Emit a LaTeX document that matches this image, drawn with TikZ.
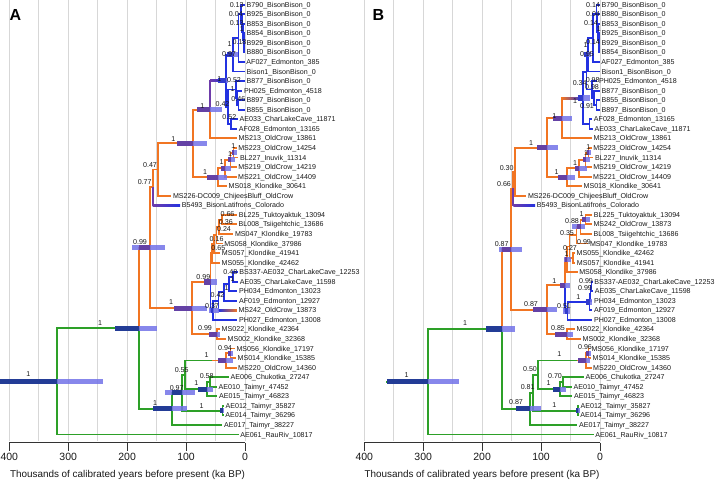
\documentclass[tikz,border=0pt]{standalone}
\usepackage{fontspec}
\setmainfont{Liberation Sans}
\usetikzlibrary{calc}
\definecolor{cor}{RGB}{241,117,35}
\definecolor{cbl}{RGB}{35,50,225}
\definecolor{cgr}{RGB}{45,160,40}
\definecolor{cpu}{RGB}{110,60,170}
\definecolor{cbar}{RGB}{115,115,232}
\definecolor{cnavy}{RGB}{35,60,150}
\definecolor{cpud}{RGB}{100,65,165}
\definecolor{cbld}{RGB}{50,60,205}
\definecolor{cgrid}{RGB}{215,215,215}
\newcommand{\hpd}[6]{%
  \fill[cbar,opacity=0.85] (#1,#3-2.6) rectangle (#2,#3+2.6);%
  \fill[#6] (#4,#3-2.6) rectangle (#5,#3+2.6);}
\newcommand{\gradbr}[4]{%
  \shade[left color=#3,right color=#4] ($(#1 |- #2)+(0,0.95)$) rectangle ($(#2)+(0,-0.95)$);}
\begin{document}
\begin{tikzpicture}[x=1pt,y=-1pt,
  br/.style={line width=1.9pt},
  ob/.style={br,draw=cor}, bb/.style={br,draw=cbl},
  gb/.style={br,draw=cgr}, pb/.style={br,draw=cpu},
  tip/.style={anchor=west,inner xsep=1.5pt,inner ysep=0pt,text height=5.1pt,text depth=0pt,font=\fontsize{7.1}{8}\selectfont,text=black!90},
  pp/.style={inner sep=0pt,font=\fontsize{7.1}{8}\selectfont,text=black!90},
  gridl/.style={draw=cgrid,line width=0.9pt},
  axl/.style={draw=black!80,line width=0.8pt},
  tickl/.style={font=\fontsize{10.5}{12}\selectfont,text=black!90,inner sep=0pt},
  titl/.style={font=\fontsize{9.9}{12}\selectfont,text=black!90,inner sep=0pt},
  panl/.style={font=\fontsize{16}{18}\selectfont\bfseries,inner sep=0pt}]
\fill[white] (0,0) rectangle (717,481);
\useasboundingbox (0,0) rectangle (717,481);
% grid
\foreach \k in {0,...,8} {
  \draw[gridl] ({245-29.465*\k},0) -- ({245-29.465*\k},441);
  \draw[gridl] ({600-29.465*\k},0) -- ({600-29.465*\k},441);
}
% ---------------- panel A tips
\foreach \rr/\ag/\lab in {
1/0/B790\_BisonBison\_0,
2/0/B925\_BisonBison\_0,
3/0/B853\_BisonBison\_0,
4/0/B854\_BisonBison\_0,
5/0/B929\_BisonBison\_0,
6/0/B880\_BisonBison\_0,
7/0.385/AF027\_Edmonton\_385,
8/0/Bison1\_BisonBison\_0,
9/0/B877\_BisonBison\_0,
10/4.518/PH025\_Edmonton\_4518,
11/0/B897\_BisonBison\_0,
12/0/B855\_BisonBison\_0,
13/11.871/AE033\_CharLakeCave\_11871,
14/13.165/AF028\_Edmonton\_13165,
15/13.861/MS213\_OldCrow\_13861,
16/14.254/MS223\_OldCrow\_14254,
17/11.314/BL227\_Inuvik\_11314,
18/14.219/MS219\_OldCrow\_14219,
19/14.409/MS221\_OldCrow\_14409,
20/30.641/MS018\_Klondike\_30641,
21/125/MS226-DC009\_ChijeesBluff\_OldCrow,
22/110/B5493\_BisonLatifrons\_Colorado,
23/13.094/BL225\_Tuktoyaktuk\_13094,
24/13.686/BL008\_Tsiigehtchic\_13686,
25/19.783/MS047\_Klondike\_19783,
26/37.986/MS058\_Klondike\_37986,
27/41.941/MS057\_Klondike\_41941,
28/42.462/MS055\_Klondike\_42462,
29/12.253/BS337-AE032\_CharLakeCave\_12253,
30/11.598/AE035\_CharLakeCave\_11598,
31/13.023/PH034\_Edmonton\_13023,
32/12.927/AF019\_Edmonton\_12927,
33/13.873/MS242\_OldCrow\_13873,
34/13.008/PH027\_Edmonton\_13008,
35/42.364/MS022\_Klondike\_42364,
36/32.368/MS002\_Klondike\_32368,
37/17.197/MS056\_Klondike\_17197,
38/15.385/MS014\_Klondike\_15385,
39/14.360/MS220\_OldCrow\_14360,
40/27.247/AE006\_Chukotka\_27247,
41/47.452/AE010\_Taimyr\_47452,
42/46.823/AE015\_Taimyr\_46823,
43/35.827/AE012\_Taimyr\_35827,
44/36.296/AE014\_Taimyr\_36296,
45/38.227/AE017\_Taimyr\_38227,
46/10.817/AE061\_RauRiv\_10817}
  \node[tip] (aT\rr) at ({245-0.5893*\ag},{4.7+(\rr-1)*9.55}) {\lab};
% ---------------- panel B tips
\foreach \rr/\ag/\lab in {
1/0/B790\_BisonBison\_0,
2/0/B880\_BisonBison\_0,
3/0/B853\_BisonBison\_0,
4/0/B925\_BisonBison\_0,
5/0/B929\_BisonBison\_0,
6/0/B854\_BisonBison\_0,
7/0.385/AF027\_Edmonton\_385,
8/0/Bison1\_BisonBison\_0,
9/4.518/PH025\_Edmonton\_4518,
10/0/B877\_BisonBison\_0,
11/0/B855\_BisonBison\_0,
12/0/B897\_BisonBison\_0,
13/13.165/AF028\_Edmonton\_13165,
14/11.871/AE033\_CharLakeCave\_11871,
15/13.861/MS213\_OldCrow\_13861,
16/14.254/MS223\_OldCrow\_14254,
17/11.314/BL227\_Inuvik\_11314,
18/14.219/MS219\_OldCrow\_14219,
19/14.409/MS221\_OldCrow\_14409,
20/30.641/MS018\_Klondike\_30641,
21/125/MS226-DC009\_ChijeesBluff\_OldCrow,
22/110/B5493\_BisonLatifrons\_Colorado,
23/13.094/BL225\_Tuktoyaktuk\_13094,
24/13.873/MS242\_OldCrow\_13873,
25/13.686/BL008\_Tsiigehtchic\_13686,
26/19.783/MS047\_Klondike\_19783,
27/42.462/MS055\_Klondike\_42462,
28/41.941/MS057\_Klondike\_41941,
29/37.986/MS058\_Klondike\_37986,
30/12.253/BS337-AE032\_CharLakeCave\_12253,
31/11.598/AE035\_CharLakeCave\_11598,
32/13.023/PH034\_Edmonton\_13023,
33/12.927/AF019\_Edmonton\_12927,
34/13.008/PH027\_Edmonton\_13008,
35/42.364/MS022\_Klondike\_42364,
36/32.368/MS002\_Klondike\_32368,
37/17.197/MS056\_Klondike\_17197,
38/15.385/MS014\_Klondike\_15385,
39/14.360/MS220\_OldCrow\_14360,
40/27.247/AE006\_Chukotka\_27247,
41/47.452/AE010\_Taimyr\_47452,
42/46.823/AE015\_Taimyr\_46823,
43/35.827/AE012\_Taimyr\_35827,
44/36.296/AE014\_Taimyr\_36296,
45/38.227/AE017\_Taimyr\_38227,
46/10.817/AE061\_RauRiv\_10817}
  \node[tip] (bT\rr) at ({600-0.5893*\ag},{4.7+(\rr-1)*9.55}) {\lab};
% ---------------- panel A internal nodes
\coordinate (aR0) at (0,381.4);
\coordinate (aR) at (57.3,381.4);
\coordinate (aN1) at (139.3,328.3);
\coordinate (aN2) at (150,247.75);
\coordinate (aN3) at (171.7,408.8);
\coordinate (aN4) at (181.7,392.7);
\coordinate (aN5) at (185,374.8);
\coordinate (aN6m) at (212,360.45);
\coordinate (aN6) at (226,360.45);
\coordinate (aN9) at (230.5,353.3);
\coordinate (aN7) at (206.7,389.1);
\coordinate (aN8) at (210,381.9);
\coordinate (aPA) at (222.5,410.6);
\coordinate (aN10) at (191.7,308.1);
\coordinate (aN30) at (210.5,281.95);
\coordinate (aK5) at (212,253.3);
\coordinate (aK4) at (214,244.05);
\coordinate (aK3) at (216.5,235.1);
\coordinate (aK2) at (219,226.75);
\coordinate (aK1) at (222,219.6);
\coordinate (aB5) at (213,310.6);
\coordinate (aB4) at (218.5,301.35);
\coordinate (aB3) at (224,292.4);
\coordinate (aB2) at (229,284.05);
\coordinate (aB1) at (233,276.9);
\coordinate (aN31) at (217,334.2);
\coordinate (aN11) at (152.7,187.4);
\coordinate (aN12) at (158.3,169.55);
\coordinate (aN13) at (193.3,143.4);
\coordinate (aN14) at (210,109.6);
\coordinate (aN15) at (218.3,177.2);
\coordinate (aN16) at (225,168.2);
\coordinate (aN17) at (230.5,159.9);
\coordinate (aN18) at (233.5,152.7);
\coordinate (aN19) at (226,80.8);
\coordinate (aN20) at (232.7,54.8);
\coordinate (aN26) at (238.5,38.0);
\coordinate (aL1) at (241,13.95);
\coordinate (aL2) at (242,23.2);
\coordinate (aL3) at (243,32.2);
\coordinate (aL4) at (243.8,40.5);
\coordinate (aL5) at (244.4,47.7);
\coordinate (aN22) at (228,106.8);
\coordinate (aN23) at (236,89.5);
\coordinate (aN24) at (237.3,97.8);
\coordinate (aN25) at (238.5,105.0);
\coordinate (aN21) at (231,124.1);
% ---------------- panel A branches
\draw[gb] (aR0) -- (aR);
\draw[gb] (aR) |- (aN1);
\draw[gb] (aR) |- (aT46.west);
\draw[ob] (aN1) |- (aN2);
\draw[gb] (aN1) |- (aN3);
\draw[ob] (aN2) |- (aN11);
\draw[ob] (aN2) |- (aN10);
\draw[ob] (aN11) |- (aN12);
\draw[pb] (aN11) |- (aT22.west); \gradbr{aN11}{aT22.west}{cpu}{cbl}
\draw[ob] (aN12) |- (aN13);
\draw[ob] (aN12) |- (aT21.west);
\draw[ob] (aN13) |- (aN14);
\draw[ob] (aN13) |- (aN15);
\draw[pb] (aN14) |- (aN19); \gradbr{aN14}{aN19}{cpu}{cbl}
\draw[ob] (aN14) |- (aT15.west);
\draw[bb] (aN19) |- (aN20);
\draw[bb] (aN19) |- (aN22);
\draw[bb] (aN20) |- (aN26);
\draw[bb] (aN20) |- (aT8.west);
\draw[bb] (aN26) |- (aL1);
\draw[bb] (aN26) |- (aT7.west);
\draw[bb] (aL1) |- (aT1.west);
\draw[bb] (aL1) |- (aL2);
\draw[bb] (aL2) |- (aT2.west);
\draw[bb] (aL2) |- (aL3);
\draw[bb] (aL3) |- (aT3.west);
\draw[bb] (aL3) |- (aL4);
\draw[bb] (aL4) |- (aT4.west);
\draw[bb] (aL4) |- (aL5);
\draw[bb] (aL5) |- (aT5.west);
\draw[bb] (aL5) |- (aT6.west);
\draw[bb] (aN22) |- (aN23);
\draw[bb] (aN22) |- (aN21);
\draw[bb] (aN23) |- (aT9.west);
\draw[bb] (aN23) |- (aN24);
\draw[bb] (aN24) |- (aT10.west);
\draw[bb] (aN24) |- (aN25);
\draw[bb] (aN25) |- (aT11.west);
\draw[bb] (aN25) |- (aT12.west);
\draw[bb] (aN21) |- (aT13.west);
\draw[bb] (aN21) |- (aT14.west);
\draw[ob] (aN15) |- (aN16);
\draw[ob] (aN15) |- (aT20.west);
\draw[ob] (aN16) |- (aN17);
\draw[ob] (aN16) |- (aT19.west);
\draw[ob] (aN17) |- (aN18);
\draw[ob] (aN17) |- (aT18.west);
\draw[ob] (aN18) |- (aT16.west);
\draw[ob] (aN18) |- (aT17.west);
\draw[ob] (aN10) |- (aN30);
\draw[ob] (aN10) |- (aN31);
\draw[ob] (aN30) |- (aK5);
\draw[bb] (aN30) |- (aB5);
\draw[ob] (aK5) |- (aK4);
\draw[ob] (aK5) |- (aT28.west);
\draw[ob] (aK4) |- (aK3);
\draw[ob] (aK4) |- (aT27.west);
\draw[ob] (aK3) |- (aK2);
\draw[ob] (aK3) |- (aT26.west);
\draw[ob] (aK2) |- (aK1);
\draw[ob] (aK2) |- (aT25.west);
\draw[ob] (aK1) |- (aT23.west);
\draw[ob] (aK1) |- (aT24.west);
\draw[bb] (aB5) |- (aB4);
\draw[bb] (aB5) |- (aT34.west);
\draw[bb] (aB4) |- (aB3);
\draw[bb] (aB4) |- (aT33.west); \gradbr{aB4}{aT33.west}{cbl}{cor}
\draw[bb] (aB3) |- (aB2);
\draw[bb] (aB3) |- (aT32.west);
\draw[bb] (aB2) |- (aB1);
\draw[bb] (aB2) |- (aT31.west);
\draw[bb] (aB1) |- (aT29.west);
\draw[bb] (aB1) |- (aT30.west);
\draw[ob] (aN31) |- (aT35.west);
\draw[ob] (aN31) |- (aT36.west);
\draw[gb] (aN3) |- (aN4);
\draw[gb] (aN3) |- (aT45.west);
\draw[gb] (aN4) |- (aN5);
\draw[gb] (aN4) |- (aPA);
\draw[gb] (aPA) |- (aT43.west);
\draw[gb] (aPA) |- (aT44.west);
\draw[gb] (aN5) |- (aN6);
\draw[ob] (aN6m) -- (aN6);
\draw[gb] (aN5) |- (aN7);
\draw[ob] (aN6) |- (aN9);
\draw[ob] (aN6) |- (aT39.west);
\draw[ob] (aN9) |- (aT37.west);
\draw[ob] (aN9) |- (aT38.west);
\draw[gb] (aN7) |- (aN8);
\draw[gb] (aN7) |- (aT42.west);
\draw[gb] (aN8) |- (aT40.west);
\draw[gb] (aN8) |- (aT41.west);
% ---------------- panel B internal nodes
\coordinate (bR0) at (386,381.7);
\coordinate (bR) at (428.3,381.7);
\coordinate (bN1) at (501.7,328.95);
\coordinate (bN2) at (510.7,249.1);
\coordinate (bN11) at (513.3,188.5);
\coordinate (bN12) at (515,171.7);
\coordinate (bN13) at (547.3,147.7);
\coordinate (bN14) at (561.7,118.25);
\coordinate (bN19) at (583,98.1);
\coordinate (bNX) at (586.5,72.15);
\coordinate (bN20) at (588,54.8);
\coordinate (bN26) at (593,38.0);
\coordinate (bL1) at (596.5,13.95);
\coordinate (bL2) at (597.3,23.2);
\coordinate (bL3) at (598,32.2);
\coordinate (bL4) at (598.7,40.5);
\coordinate (bL5) at (599.3,47.7);
\coordinate (bN23) at (592,89.5);
\coordinate (bN24) at (594,97.8);
\coordinate (bN25) at (596.5,105.0);
\coordinate (bN21) at (589.5,124.1);
\coordinate (bN15) at (566.7,177.2);
\coordinate (bN16) at (579,168.2);
\coordinate (bN17) at (585.5,159.9);
\coordinate (bN18) at (588.5,152.7);
\coordinate (bN10) at (546.7,309.65);
\coordinate (bN30) at (565,285.1);
\coordinate (bK5) at (567,259.3);
\coordinate (bK4) at (569.5,246.45);
\coordinate (bKP) at (573,257.8);
\coordinate (bK3) at (576.5,235.1);
\coordinate (bK2) at (580.5,226.75);
\coordinate (bK1) at (585.5,219.6);
\coordinate (bB4) at (567.5,310.9);
\coordinate (bB3) at (589.5,301.95);
\coordinate (bB2) at (590.5,293.6);
\coordinate (bB1) at (591.5,286.4);
\coordinate (bN31) at (567,334.2);
\coordinate (bN3) at (530,408.8);
\coordinate (bN4) at (533.3,392.7);
\coordinate (bN5) at (538.3,374.8);
\coordinate (bN6m) at (577,360.45);
\coordinate (bN6) at (586,360.45);
\coordinate (bN9) at (588.5,353.3);
\coordinate (bN7) at (560,389.1);
\coordinate (bN8) at (563.3,381.9);
\coordinate (bPB) at (578,410.6);
% ---------------- panel B branches
\draw[gb] (bR0) -- (bR);
\draw[gb] (bR) |- (bN1);
\draw[gb] (bR) |- (bT46.west);
\draw[ob] (bN1) |- (bN2);
\draw[gb] (bN1) |- (bN3);
\draw[ob] (bN2) |- (bN11);
\draw[ob] (bN2) |- (bN10);
\draw[ob] (bN11) |- (bN12);
\draw[pb] (bN11) |- (bT22.west); \gradbr{bN11}{bT22.west}{cpu}{cbl}
\draw[ob] (bN12) |- (bN13);
\draw[ob] (bN12) |- (bT21.west);
\draw[ob] (bN13) |- (bN14);
\draw[ob] (bN13) |- (bN15);
\draw[ob] (bN14) |- (bN19); \gradbr{bN14}{bN19}{cor}{cbl}
\draw[ob] (bN14) |- (bT15.west);
\draw[bb] (bN19) |- (bNX);
\draw[bb] (bN19) |- (bN21);
\draw[bb] (bNX) |- (bN20);
\draw[bb] (bNX) |- (bN23);
\draw[bb] (bN20) |- (bN26);
\draw[bb] (bN20) |- (bT8.west);
\draw[bb] (bN26) |- (bL1);
\draw[bb] (bN26) |- (bT7.west);
\draw[bb] (bL1) |- (bT1.west);
\draw[bb] (bL1) |- (bL2);
\draw[bb] (bL2) |- (bT2.west);
\draw[bb] (bL2) |- (bL3);
\draw[bb] (bL3) |- (bT3.west);
\draw[bb] (bL3) |- (bL4);
\draw[bb] (bL4) |- (bT4.west);
\draw[bb] (bL4) |- (bL5);
\draw[bb] (bL5) |- (bT5.west);
\draw[bb] (bL5) |- (bT6.west);
\draw[bb] (bN23) |- (bT9.west);
\draw[bb] (bN23) |- (bN24);
\draw[bb] (bN24) |- (bT10.west);
\draw[bb] (bN24) |- (bN25);
\draw[bb] (bN25) |- (bT11.west);
\draw[bb] (bN25) |- (bT12.west);
\draw[bb] (bN21) |- (bT13.west);
\draw[bb] (bN21) |- (bT14.west);
\draw[ob] (bN15) |- (bN16);
\draw[ob] (bN15) |- (bT20.west);
\draw[ob] (bN16) |- (bN17);
\draw[ob] (bN16) |- (bT19.west);
\draw[ob] (bN17) |- (bN18);
\draw[ob] (bN17) |- (bT18.west);
\draw[ob] (bN18) |- (bT16.west);
\draw[ob] (bN18) |- (bT17.west);
\draw[ob] (bN10) |- (bN30);
\draw[ob] (bN10) |- (bN31);
\draw[ob] (bN30) |- (bK5);
\draw[bb] (bN30) |- (bB4);
\draw[ob] (bK5) |- (bK4);
\draw[ob] (bK5) |- (bT29.west);
\draw[ob] (bK4) |- (bK3);
\draw[ob] (bK4) |- (bKP);
\draw[ob] (bKP) |- (bT27.west);
\draw[ob] (bKP) |- (bT28.west);
\draw[ob] (bK3) |- (bK2);
\draw[ob] (bK3) |- (bT26.west);
\draw[ob] (bK2) |- (bK1);
\draw[ob] (bK2) |- (bT25.west);
\draw[ob] (bK1) |- (bT23.west);
\draw[ob] (bK1) |- (bT24.west);
\draw[bb] (bB4) |- (bB3);
\draw[bb] (bB4) |- (bT34.west);
\draw[bb] (bB3) |- (bB2);
\draw[bb] (bB3) |- (bT33.west);
\draw[bb] (bB2) |- (bB1);
\draw[bb] (bB2) |- (bT32.west);
\draw[bb] (bB1) |- (bT30.west);
\draw[bb] (bB1) |- (bT31.west);
\draw[ob] (bN31) |- (bT35.west);
\draw[ob] (bN31) |- (bT36.west);
\draw[gb] (bN3) |- (bN4);
\draw[gb] (bN3) |- (bT45.west);
\draw[gb] (bN4) |- (bN5);
\draw[gb] (bN4) |- (bPB);
\draw[gb] (bPB) |- (bT43.west);
\draw[gb] (bPB) |- (bT44.west);
\draw[gb] (bN5) |- (bN6);
\draw[ob] (bN6m) -- (bN6);
\draw[gb] (bN5) |- (bN7);
\draw[ob] (bN6) |- (bN9);
\draw[ob] (bN6) |- (bT39.west);
\draw[ob] (bN9) |- (bT37.west);
\draw[ob] (bN9) |- (bT38.west);
\draw[gb] (bN7) |- (bN8);
\draw[gb] (bN7) |- (bT42.west);
\draw[gb] (bN8) |- (bT40.west);
\draw[gb] (bN8) |- (bT41.west);
% ---------------- HPD bars A
\hpd{0}{103}{381.4}{0}{57.3}{cnavy}
\hpd{115}{157}{328.3}{115}{139.3}{cnavy}
\hpd{131.7}{165}{247.75}{139.3}{150}{cpud}
\hpd{153}{187}{408.8}{153}{171.7}{cnavy}
\hpd{165}{195}{392.7}{171.7}{181.7}{cnavy}
\hpd{198}{213}{389.1}{198}{206.7}{cnavy}
\hpd{218}{233}{360.45}{218}{226}{cpud}
\hpd{228}{233}{353.3}{228}{230.5}{cpud}
\hpd{220}{224}{410.6}{220}{222.5}{cnavy}
\hpd{174}{206.7}{308.1}{174}{191.7}{cpud}
\hpd{204}{217.3}{281.95}{204}{210.5}{cpud}
\hpd{209}{220}{334.2}{209}{217}{cpud}
\hpd{209}{219}{310.6}{210.5}{213}{cbld}
\hpd{176.7}{206.7}{143.4}{176.7}{193.3}{cpud}
\hpd{196.7}{221.7}{109.6}{196.7}{210}{cpud}
\hpd{206.7}{226.7}{177.2}{206.7}{218.3}{cpud}
\hpd{221}{231}{168.2}{221}{225}{cpud}
\hpd{228}{235}{159.9}{228}{230.5}{cpud}
\hpd{232}{236.5}{152.7}{232}{233.5}{cpud}
\hpd{218}{228}{80.8}{218}{226}{cbld}
\hpd{227}{238}{54.8}{227}{232.7}{cbld}
% ---------------- HPD bars B
\hpd{386.7}{459.3}{381.7}{386.7}{428.3}{cnavy}
\hpd{486}{515}{328.95}{486}{501.7}{cnavy}
\hpd{499}{521.7}{249.1}{501.7}{510.7}{cpud}
\hpd{516}{541}{408.8}{516}{530}{cnavy}
\hpd{533}{556.7}{309.65}{533}{546.7}{cpud}
\hpd{536.7}{558.3}{147.7}{536.7}{547.3}{cpud}
\hpd{553}{571.7}{118.25}{553}{561.7}{cpud}
\hpd{558}{575}{177.2}{558}{566.7}{cpud}
\hpd{575}{586.7}{168.2}{575}{579}{cpud}
\hpd{583}{590}{159.9}{583}{585.5}{cpud}
\hpd{586.5}{591}{152.7}{586.5}{588.5}{cpud}
\hpd{560}{570}{285.1}{560}{565}{cpud}
\hpd{563}{570}{310.9}{565}{567.5}{cbld}
\hpd{586}{592}{301.95}{586}{589.5}{cbld}
\hpd{555}{573.3}{334.2}{555}{567}{cpud}
\hpd{578}{590}{360.45}{578}{586}{cpud}
\hpd{586}{591}{353.3}{586}{588.5}{cpud}
\hpd{552.7}{566}{389.1}{552.7}{560}{cnavy}
\hpd{576}{580}{410.6}{576}{578}{cnavy}
\hpd{564}{571}{259.3}{565}{567}{cpud}
\hpd{572}{585}{226.75}{576.5}{580.5}{cpud}
\hpd{582}{590}{219.6}{582}{585.5}{cpud}
\hpd{578}{590}{98.1}{578}{583}{cbld}
\hpd{584}{591}{54.8}{584}{588}{cbld}
% ---------------- posterior labels A
\foreach \x/\y/\lab [count=\i] in {
236.7/4.7/0.13, 235.8/14/0.04, 236.7/22.7/0.13, 241.8/28.8/1, 239.5/41.7/0.18,
229.5/44.5/1, 229/53.8/0.97, 219.3/79/1, 234/80/0.52, 232.7/89.3/1,
238.3/99/0.46, 222.5/104/0.42, 202.3/106/1, 229.3/117.3/0.52, 173.3/139.3/1,
233.3/146/1, 230/154/1, 221.7/162.3/1, 150/165/0.47, 205/171.7/1,
144.7/181.7/0.77, 227.5/214.3/0.66, 225.8/221.7/0.36, 224/229.3/0.24, 216.6/239.3/0.16,
218.3/248.3/0.65, 140/241.7/0.99, 230.3/271.7/0.48, 232.7/279.3/1, 203.3/276.7/0.99,
226.7/288.3/1, 217.5/295.3/0.42, 171/302.3/1, 212/305.7/0.37, 205/328.3/0.99,
100/323.3/1, 225/348.3/0.94, 206.7/355/1, 181.7/370/0.55, 206.7/376/0.58,
28.3/374/1, 176.7/387.7/0.97, 196.3/383.3/1, 155/402.7/1, 201.7/406/1}
  \node[pp] (aP\i) at (\x,\y) {\lab};
% ---------------- posterior labels B
\foreach \x/\y/\lab [count=\i] in {
593/4.7/0.14, 593/14/0.04, 591/23.3/0.14, 598.8/29.5/1, 593/41.7/0.14,
585.5/45.5/1, 587/54.5/0.95, 579.7/83.3/0.34, 592.7/80/0.98, 592/87.3/0.98,
575/101/1, 587/106/0.91, 554.3/116/1, 531/143.3/1, 588.3/146.7/1,
586/153.3/1, 575/162.7/1, 506.7/167.7/0.30, 556.7/171.7/1, 504/184/0.66,
581.7/214/1, 572/221/0.88, 567/232.7/0.35, 584/241.7/0.99, 570/248.3/0.27,
566.7/254.3/1, 501.7/244/0.87, 554.3/280.7/1, 586/281/0.99, 585/288.3/0.99,
578.3/296.7/1, 531/304.3/0.87, 564/306/0.51, 558/327.7/0.85, 465/323.3/1,
585/347.3/0.96, 559.3/354.3/1, 530/369.3/0.50, 555/376/0.70, 406.7/375/1,
527.7/386.7/0.81, 548.7/383.3/1, 516/402/0.87, 554.3/405/1}
  \node[pp] (bP\i) at (\x,\y) {\lab};
% ---------------- axes
\coordinate (aAx0) at (9.28,442.7);
\coordinate (aAx1) at (245,442.7);
\draw[axl] (aAx0) -- (aAx1);
\coordinate (bAx0) at (364.3,442.7);
\coordinate (bAx1) at (600,442.7);
\draw[axl] (bAx0) -- (bAx1);
\foreach \v [count=\i] in {400,300,200,100,0} {
  \coordinate (aTk\i) at ({245-0.5893*\v},442.7);
  \draw[axl] (aTk\i) -- ++(0,7.8);
  \node[tickl] (aTL\i) at ({245-0.5893*\v},457) {\v};
  \coordinate (bTk\i) at ({600-0.5893*\v},442.7);
  \draw[axl] (bTk\i) -- ++(0,7.8);
  \node[tickl] (bTL\i) at ({600-0.5893*\v},457) {\v};
}
\node[titl] (aTitle) at (127.5,475) {Thousands of calibrated years before present (ka BP)};
\node[titl] (bTitle) at (482,475) {Thousands of calibrated years before present (ka BP)};
\node[panl] (pA) at (15.5,15) {A};
\node[panl] (pB) at (378.5,15) {B};
\end{tikzpicture}
\end{document}
